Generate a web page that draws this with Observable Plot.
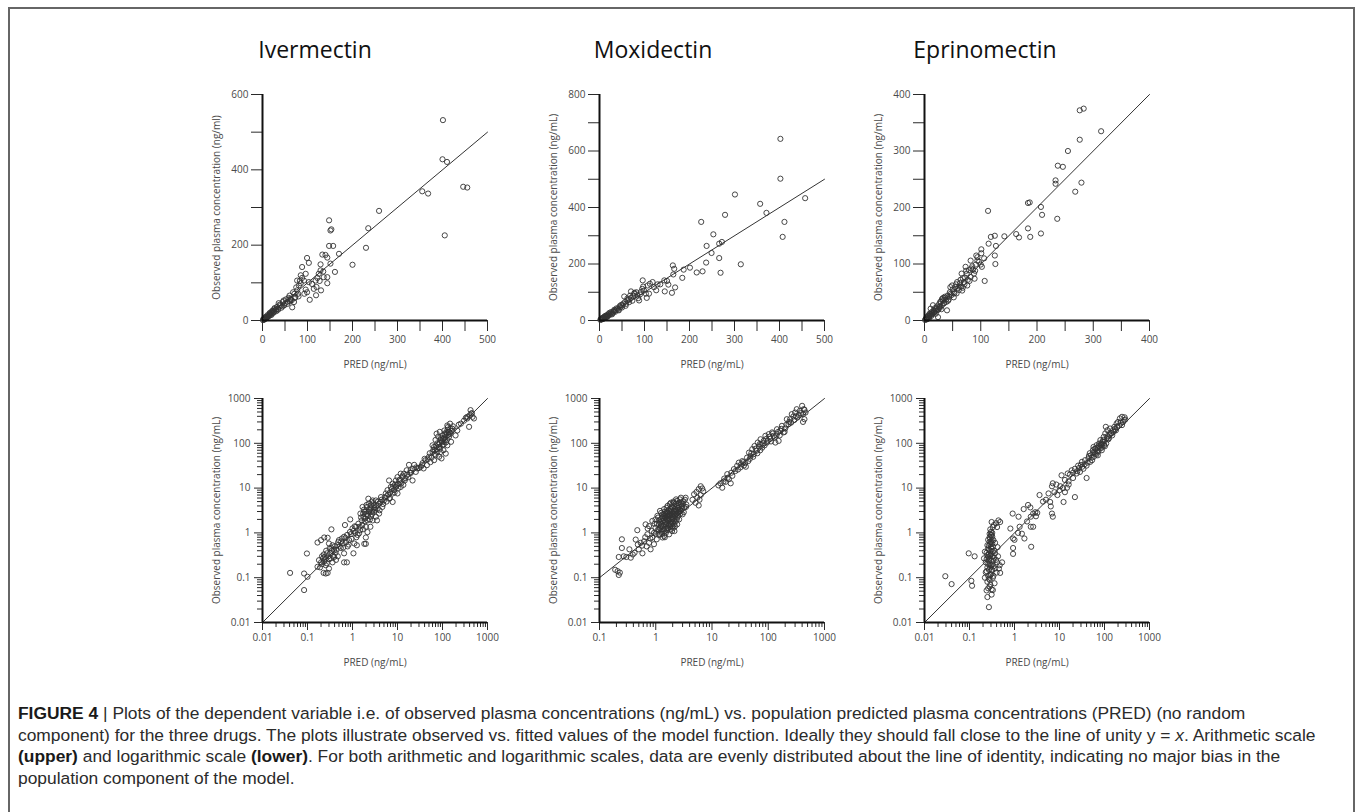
<!DOCTYPE html>
<html><head><meta charset="utf-8">
<script src="https://cdn.jsdelivr.net/npm/d3@7"></script>
<script src="https://cdn.jsdelivr.net/npm/@observablehq/plot@0.6"></script>
<style>
body{margin:0;background:#fff;}
#page{position:relative;width:1355px;height:812px;overflow:hidden;background:#fff;}
#frame{position:absolute;left:8px;top:7px;width:1347px;height:830px;border:2px solid #666;box-sizing:border-box;}
.title{position:absolute;top:34px;font-family:"Open Sans",sans-serif;font-size:23px;color:#111;transform:translateX(-50%);white-space:nowrap;line-height:30px;}
.panel{position:absolute;}
#caption{position:absolute;left:18px;top:703px;font-family:"Liberation Sans",Arial,sans-serif;font-size:17.4px;line-height:21.5px;color:#2b2b2b;}
#caption .ln{width:max-content;white-space:nowrap;}
#caption b{color:#1a1a1a;}
</style></head>
<body><div id="page"><div id="frame"></div></div>
<script>
// ---------------- data ----------------
const drugs = ["Ivermectin", "Moxidectin", "Eprinomectin"];
const titleCenters = [315, 653, 985];

// arithmetic scale: [PRED, observed] in ng/mL
const ivermectinLinear = [[401,532],[400,428],[410,421],[355,343],[368,337],[446,355],[455,353],[405,226],[259,291],[235,245],[230,193],[200,148],[170,177],[148,266],[151,239],[153,242],[148,198],[157,198],[133,175],[140,174],[144,167],[129,149],[135,130],[125,124],[161,129],[151,151],[144,115],[144,99],[99,166],[103,153],[88,142],[85,120],[96,124],[92,106],[103,102],[110,97],[114,84],[118,106],[127,105],[130,80],[105,55],[119,67],[93,71],[81,93],[77,80],[73,62],[70,49],[66,35],[61,51],[55,44],[47,53],[40,40],[34,31],[29,27],[24,22],[18,18],[14,13],[10,9],[7,5],[3,2],[36,46],[85,99],[77,106],[88,113],[79,71],[62,58],[71,71],[96,82],[99,75],[136,115],[122,113],[129,133],[120,89],[5,8],[12,10],[20,15],[26,30],[31,25],[44,38],[50,45],[58,60],[65,54],[2,4],[16,20],[22,26],[1,1],[4,3],[6,6],[8,10],[9,7],[11,14],[13,11],[15,16],[17,14],[19,22],[21,19],[23,25],[25,21],[27,33],[30,30],[32,36],[35,29],[38,42],[42,34],[45,49],[48,40],[52,56],[56,50],[60,66],[63,55],[68,75],[72,60],[75,88],[80,64],[83,105]];
const moxidectinLinear = [[402,643],[402,502],[407,296],[411,349],[457,433],[357,413],[371,381],[301,446],[279,374],[226,349],[253,305],[238,264],[249,239],[266,272],[272,278],[266,221],[269,169],[237,205],[229,174],[216,170],[314,199],[201,187],[187,180],[184,151],[163,195],[166,183],[164,163],[168,117],[161,98],[145,103],[150,140],[153,127],[144,142],[118,136],[107,124],[96,142],[99,106],[105,80],[110,95],[92,101],[88,71],[77,95],[70,103],[70,80],[62,71],[59,59],[55,85],[51,53],[46,47],[40,41],[36,36],[31,30],[25,24],[19,18],[14,12],[9,7],[4,4],[84,89],[66,65],[103,95],[121,118],[129,128],[6,9],[12,15],[17,13],[22,27],[28,22],[33,38],[43,36],[48,55],[57,66],[66,75],[75,88],[82,100],[97,120],[112,130],[135,128],[126,107],[2,2],[3,5],[5,4],[7,9],[8,6],[10,12],[11,9],[13,16],[15,13],[16,19],[18,15],[20,23],[23,20],[26,30],[29,26],[32,34],[35,31],[38,43],[42,38],[45,51],[50,46],[53,60],[58,52],[62,78],[68,88],[73,70],[78,98],[86,79],[90,92],[95,112]];
const eprinomectinLinear = [[283,375],[276,372],[314,335],[276,320],[255,300],[237,274],[246,272],[233,248],[233,242],[279,244],[268,228],[236,180],[207,201],[209,187],[207,154],[184,208],[187,209],[184,163],[188,148],[163,153],[168,147],[142,149],[113,194],[125,150],[118,148],[114,136],[127,132],[125,115],[126,100],[107,70],[101,126],[101,119],[94,112],[100,99],[91,99],[82,106],[85,96],[73,95],[88,83],[89,74],[82,77],[75,83],[66,83],[64,72],[70,68],[76,62],[58,68],[55,59],[49,62],[61,54],[67,53],[52,50],[46,47],[43,37],[37,40],[31,38],[28,33],[34,30],[40,18],[26,24],[21,21],[17,17],[14,13],[10,11],[6,7],[3,4],[20,12],[24,6],[15,27],[11,21],[46,59],[52,41],[94,106],[79,89],[102,95],[8,4],[12,8],[18,15],[23,18],[28,25],[33,36],[39,33],[44,42],[57,48],[62,60],[68,58],[72,76],[80,70],[86,90],[97,104],[106,110],[2,2],[5,3],[9,12],[30,20],[1,1],[4,2],[4,6],[7,5],[7,9],[9,8],[11,10],[13,15],[14,11],[16,18],[17,14],[19,22],[20,17],[22,25],[24,20],[26,29],[27,22],[29,33],[31,27],[33,40],[35,31],[36,42],[38,37],[41,44],[42,35],[45,50],[48,45],[50,55],[53,48],[56,64],[59,57],[63,66],[65,60],[68,75],[71,64],[74,88],[77,72],[83,92],[90,88],[92,115]];

// logarithmic scale: [PRED, observed] in ng/mL
const ivermectinLog = [[0.041,0.128],[0.084,0.124],[0.097,0.347],[0.084,0.053],[0.1,0.105],[0.167,0.175],[0.18,0.246],[0.2,0.22],[0.22,0.27],[0.235,0.23],[0.24,0.29],[0.255,0.19],[0.27,0.35],[0.28,0.128],[0.3,0.16],[0.228,0.128],[0.255,0.124],[0.32,0.35],[0.34,0.46],[0.36,0.53],[0.39,0.41],[0.3,0.58],[0.167,0.61],[0.2,0.69],[0.235,0.79],[0.28,0.78],[0.34,1.2],[0.39,0.29],[0.43,0.25],[0.3,0.26],[0.36,0.22],[0.46,0.53],[0.5,0.69],[0.55,0.46],[0.6,0.58],[0.65,0.82],[0.68,1.5],[0.65,0.22],[0.75,0.22],[0.65,0.35],[0.78,0.5],[0.84,0.69],[0.92,0.94],[1.0,1.26],[1.05,0.35],[0.89,2.0],[1.1,0.58],[1.25,0.53],[1.3,0.9],[1.45,1.37],[1.6,1.9],[1.2,1.37],[1.67,3.8],[1.83,2.95],[1.76,2.3],[1.88,1.8],[1.98,1.37],[1.98,0.79],[1.83,0.57],[1.98,0.57],[2.15,1.04],[2.15,1.9],[2.3,2.95],[2.3,4.5],[2.55,2.3],[2.55,3.5],[2.8,5.3],[2.8,1.9],[3.0,2.95],[3.0,4.1],[3.3,2.3],[3.3,5.3],[3.6,3.5],[3.9,2.7],[3.9,4.5],[4.3,6.3],[4.6,3.8],[5.0,5.3],[2.1,3.8],[2.5,1.37],[1.5,2.7],[2.25,5.8],[2.65,4.9],[3.5,1.9],[5.5,7.6],[6.0,9.0],[6.5,5.8],[7.1,10.6],[7.8,7.6],[7.8,12.5],[8.4,9.0],[9.2,14.8],[9.2,10.6],[10,17.6],[10.3,12.5],[10.9,14.8],[11.8,21],[11.8,10.6],[12.9,17.6],[14,21],[14.5,14.8],[16,25],[18,33],[17.4,17.6],[19.6,25],[21.6,14.8],[23.5,33],[25.5,23],[7.8,4.9],[6.5,14.8],[10,7.6],[27.5,27.5],[33,30],[35,32.5],[38,27.5],[42,42],[45,32.5],[50,50],[54,38],[60,64],[65,42],[65,83],[70,54],[77,100],[77,64],[80,140],[84,83],[84,50],[91,119],[91,64],[100,150],[100,90],[105,70],[110,193],[113,119],[118,59],[124,164],[128,90],[132,230],[140,140],[147,275],[150,164],[155,108],[165,212],[70,119],[60,90],[87,180],[95,46],[74,164],[128,250],[195,150],[213,193],[256,275],[355,358],[420,550],[435,460],[390,233],[465,390],[500,358],[355,390],[0.21,0.3],[0.26,0.4],[0.31,0.45],[0.42,0.36],[0.48,0.62],[0.58,0.75],[0.72,0.62],[1.15,1.0],[1.4,0.98],[1.7,1.2],[2.0,2.6],[2.4,3.2],[2.7,2.6],[3.2,3.3],[4.2,4.9],[5.8,6.6],[6.8,8.0],[8.8,12],[13.5,11.8],[20,22],[68,70],[86,100],[96,110],[108,130],[120,105],[135,180],[0.19,0.17],[0.21,0.2],[0.23,0.33],[0.25,0.26],[0.27,0.21],[0.29,0.3],[0.33,0.27],[0.35,0.4],[0.37,0.31],[0.4,0.5],[0.44,0.42],[0.47,0.3],[0.52,0.5],[0.56,0.64],[0.62,0.47],[0.7,0.77],[0.76,0.9],[0.82,0.55],[0.88,1.05],[0.95,0.74],[1.05,1.1],[1.12,1.4],[1.22,0.8],[1.35,1.6],[1.48,1.15],[1.55,2.2],[1.65,1.5],[1.72,2.7],[1.8,3.3],[1.9,2.1],[2.0,3.0],[2.05,4.2],[2.2,2.4],[2.35,3.4],[2.45,2.0],[2.6,4.1],[2.75,3.0],[2.9,4.6],[3.1,3.6],[3.4,4.0],[3.7,5.0],[4.0,3.2],[4.4,5.5],[4.8,4.4],[5.2,6.2],[5.7,5.0],[6.2,7.2],[6.8,6.0],[7.4,9.5],[8.0,10.8],[8.6,8.0],[9.5,11.5],[10.5,10.0],[11.2,15.5],[12.2,13],[13,19],[15,16.5],[16.5,20],[19,22],[22,27],[26,29],[30,28],[36,36],[40,45],[47,44],[52,60],[57,48],[63,72],[67,58],[72,86],[75,74],[82,93],[88,76],[93,130],[98,105],[103,125],[107,95],[112,160],[116,140],[120,175],[126,120],[130,200],[137,155],[142,180],[150,215],[158,190],[170,240],[230,260],[300,320],[330,370],[400,420],[450,470]];
const moxidectinLog = [[0.21,0.14],[0.22,0.115],[0.23,0.13],[0.19,0.15],[0.25,0.72],[0.25,0.46],[0.22,0.29],[0.34,0.43],[0.36,0.28],[0.39,0.33],[0.44,0.71],[0.47,1.15],[0.5,0.43],[0.54,0.6],[0.58,0.35],[0.62,0.65],[0.66,1.55],[0.69,0.5],[0.71,0.93],[0.76,0.6],[0.76,1.42],[0.81,0.43],[0.87,1.85],[0.87,0.79],[0.93,0.56],[0.93,1.0],[0.99,1.3],[0.99,2.0],[1.04,0.72],[1.07,2.4],[1.1,1.2],[1.14,1.55],[1.19,0.93],[1.19,3.1],[1.23,2.0],[1.27,1.2],[1.32,2.6],[1.32,0.79],[1.37,1.7],[1.41,3.4],[1.41,1.2],[1.45,2.2],[1.51,1.0],[1.51,1.55],[1.57,2.85],[1.62,4.0],[1.62,1.3],[1.67,2.0],[1.73,2.6],[1.73,0.93],[1.79,1.7],[1.85,3.4],[1.85,1.2],[1.9,2.2],[1.97,4.3],[1.97,1.4],[2.04,2.85],[2.1,1.85],[2.1,4.7],[2.15,1.1],[2.2,3.4],[2.2,2.4],[2.3,5.6],[2.4,1.55],[2.4,4.0],[2.45,2.85],[2.6,4.7],[2.6,2.0],[2.7,3.4],[2.8,6.1],[2.85,4.3],[3.0,2.6],[3.1,5.1],[3.2,3.7],[3.4,6.1],[3.5,4.3],[1.32,1.85],[1.51,2.2],[1.73,3.1],[1.97,2.0],[2.2,1.4],[1.62,2.4],[1.85,4.7],[2.1,3.1],[2.4,2.2],[2.8,3.1],[1.14,1.2],[1.23,1.42],[1.41,0.86],[1.2,1.7],[1.3,2.2],[1.5,1.8],[1.6,3.0],[1.7,1.5],[1.8,2.5],[1.9,3.8],[2.0,1.6],[2.3,2.7],[2.5,3.6],[2.6,2.9],[2.9,3.9],[1.45,2.7],[1.55,1.25],[1.75,2.1],[1.05,1.6],[1.1,2.2],[1.15,0.9],[1.2,1.3],[1.25,2.8],[1.28,1.05],[1.33,1.45],[1.36,2.35],[1.4,1.9],[1.43,1.1],[1.47,3.0],[1.5,2.45],[1.53,1.7],[1.56,3.6],[1.6,1.15],[1.63,2.7],[1.66,1.9],[1.7,3.3],[1.72,2.3],[1.76,1.35],[1.78,4.4],[1.82,2.8],[1.84,1.6],[1.88,3.1],[1.92,2.5],[1.95,1.1],[1.98,3.7],[2.02,2.2],[2.06,5.0],[2.1,2.6],[2.12,1.55],[2.16,3.9],[2.2,2.9],[2.25,1.8],[2.28,4.5],[2.32,3.2],[2.36,2.0],[2.4,5.2],[2.45,3.6],[2.5,2.4],[2.55,4.2],[2.62,3.3],[2.68,5.6],[2.75,2.7],[2.82,4.8],[2.95,3.5],[3.05,4.5],[3.15,2.9],[3.3,5.5],[3.45,3.8],[1.3,0.95],[1.45,0.8],[1.65,1.25],[1.85,1.45],[2.05,1.3],[1.15,1.9],[1.25,1.6],[1.4,2.6],[1.55,2.05],[1.7,2.45],[1.9,1.75],[2.15,2.1],[2.35,2.65],[2.6,3.0],[0.95,1.6],[1.0,0.95],[0.85,1.1],[0.8,0.75],[0.72,1.25],[0.65,0.8],[0.57,0.52],[0.48,0.55],[0.42,0.36],[0.3,0.29],[0.27,0.3],[4.8,7.3],[5.1,4.7],[5.5,6.1],[5.8,9.5],[6.3,11],[6.7,9.8],[5.8,4.1],[6.3,7.0],[4.5,5.5],[5.3,8.2],[6.0,5.5],[7.0,8.5],[14.1,12.8],[15.2,10.2],[16.5,16.3],[17.5,13.8],[18.7,20.5],[20,15.8],[21.5,12.8],[23,18.8],[24.5,26.5],[28,31.5],[30,37],[32,29],[34.5,40],[37,32],[40,30],[42,48],[45.5,62],[48.5,52],[52,74],[55,57],[57,87],[62,68],[65,104],[68,85],[73,123],[75,95],[78,80],[83,113],[89,147],[95,104],[102,160],[109,127],[117,175],[125,147],[134,104],[143,206],[153,113],[164,190],[175,245],[187,175],[200,214],[214,345],[229,267],[245,345],[262,447],[280,397],[300,486],[321,577],[330,376],[365,530],[400,686],[415,447],[440,345],[428,577],[460,486],[415,300],[13,11.5],[16,14],[19,17],[22,22],[26,24],[29,26],[33,34],[36,38],[39,36],[44,40],[47,45],[50,60],[54,50],[60,76],[64,60],[70,95],[72,70],[80,100],[86,90],[92,125],[98,115],[105,140],[112,110],[120,165],[130,135],[140,150],[150,180],[160,150],[170,210],[195,180],[210,260],[235,300],[255,290],[290,330],[310,400],[350,430],[380,470],[440,560]];
const eprinomectinLog = [[0.029,0.108],[0.04,0.072],[0.096,0.35],[0.13,0.3],[0.11,0.085],[0.114,0.066],[0.27,0.022],[0.25,0.037],[0.24,0.052],[0.26,0.058],[0.28,0.063],[0.31,0.055],[0.25,0.081],[0.27,0.095],[0.29,0.113],[0.23,0.132],[0.31,0.146],[0.25,0.17],[0.28,0.2],[0.23,0.22],[0.31,0.24],[0.26,0.29],[0.29,0.31],[0.24,0.36],[0.33,0.38],[0.27,0.42],[0.3,0.48],[0.25,0.53],[0.32,0.58],[0.28,0.63],[0.29,0.75],[0.31,0.89],[0.3,1.05],[0.33,1.35],[0.31,1.75],[0.39,1.65],[0.44,1.9],[0.41,1.35],[0.48,1.75],[0.42,0.48],[0.37,0.35],[0.41,0.22],[0.47,0.19],[0.53,0.22],[0.48,0.128],[0.37,0.16],[0.34,0.11],[0.33,0.053],[0.34,0.24],[0.36,0.4],[0.34,0.69],[0.27,0.24],[0.29,0.17],[0.21,0.27],[0.22,0.38],[0.26,0.45],[0.3,0.33],[0.28,0.27],[0.32,0.2],[0.27,0.15],[0.3,0.62],[0.32,0.82],[0.28,0.95],[0.35,0.28],[0.25,0.32],[0.22,0.1],[0.24,0.14],[0.26,0.11],[0.28,0.09],[0.3,0.12],[0.32,0.15],[0.33,0.1],[0.29,0.07],[0.26,0.2],[0.3,0.19],[0.34,0.18],[0.24,0.26],[0.32,0.3],[0.27,0.34],[0.29,0.4],[0.31,0.44],[0.27,0.52],[0.33,0.5],[0.29,0.56],[0.26,0.7],[0.31,0.68],[0.28,0.8],[0.3,0.9],[0.32,1.0],[0.29,1.2],[0.35,1.5],[0.37,0.6],[0.39,0.25],[0.43,0.3],[0.45,0.16],[0.4,0.13],[0.36,0.075],[0.31,0.042],[0.81,1.25],[0.91,2.7],[0.93,0.75],[1.0,0.7],[0.93,0.46],[0.93,0.34],[1.23,2.3],[1.3,1.37],[1.6,3.4],[1.46,0.96],[1.66,0.75],[2.0,4.2],[2.25,3.7],[2.3,2.3],[2.6,2.7],[2.3,1.37],[2.6,1.37],[2.35,0.49],[2.9,2.9],[3.0,2.35],[3.6,7.0],[5.7,7.6],[6.2,4.9],[6.4,3.9],[6.8,2.7],[7.1,2.3],[6.8,11.0],[7.1,12.8],[7.7,8.1],[10.4,11.0],[11.1,19.3],[12.3,4.9],[13.2,8.1],[13.2,15.2],[14.7,10.2],[15.2,21.2],[15.9,14.1],[18.7,25],[20,16.8],[22,6.3],[22,27],[24,21.2],[26,31.8],[28.5,23],[31.5,38.5],[34,27],[37,42],[40,16.8],[40,31.8],[44,46],[48,38.5],[50,54],[53,42],[56,63],[58,50],[61,76],[63,59],[67,91],[69,67],[71,54],[76,99],[79,76],[81,118],[83,91],[87,70],[91,108],[96,139],[98,91],[104,166],[109,99],[116,196],[122,123],[128,154],[133,214],[143,166],[154,196],[166,233],[180,196],[186,277],[200,300],[220,360],[245,390],[275,330],[245,255],[107,233],[57,83],[45,52],[47,60],[52,48],[55,70],[60,62],[64,75],[66,56],[70,80],[73,65],[75,88],[78,84],[85,100],[88,80],[90,95],[94,120],[100,110],[102,86],[112,130],[118,145],[125,130],[138,170],[148,150],[160,180],[170,210],[190,230],[210,250],[230,290],[260,300],[280,380],[290,340],[32,30],[36,34],[42,37],[30,33],[27,28],[25,24],[20,22],[17,20],[16,12],[12,10],[10,9],[8.5,12],[9,7],[5,5.5],[4.3,5],[3.2,2.8],[1.9,1.8],[1.2,1.0]];

const linearTicks = {
  Ivermectin: {x: [0,100,200,300,400,500], xMinor: [50,150,250,350,450], y: [0,200,400,600], yMinor: [100,300,500]},
  Moxidectin: {x: [0,100,200,300,400,500], xMinor: [50,150,250,350,450], y: [0,200,400,600,800], yMinor: [100,300,500,700]},
  Eprinomectin: {x: [0,100,200,300,400], xMinor: [50,150,250,350], y: [0,100,200,300,400], yMinor: [50,150,250,350]}
};
const logDecadesX = {Ivermectin: [0.01,0.1,1,10,100,1000], Moxidectin: [0.1,1,10,100,1000], Eprinomectin: [0.01,0.1,1,10,100,1000]};
const logDecadesY = [0.01,0.1,1,10,100,1000];
const yLabels = {Ivermectin: "Observed plasma concentration (ng/ml)", Moxidectin: "Observed plasma concentration (ng/mL)", Eprinomectin: "Observed plasma concentration (ng/mL)"};
const xLabel = "PRED (ng/mL)";
const captionLines = [
  "<b>FIGURE 4</b> | Plots of the dependent variable i.e. of observed plasma concentrations (ng/mL) vs. population predicted plasma concentrations (PRED) (no random",
  "component) for the three drugs. The plots illustrate observed vs. fitted values of the model function. Ideally they should fall close to the line of unity y = <i>x</i>. Arithmetic scale",
  "<b>(upper)</b> and logarithmic scale <b>(lower)</b>. For both arithmetic and logarithmic scales, data are evenly distributed about the line of identity, indicating no major bias in the",
  "population component of the model."
];

// ---------------- drawing ----------------
const page = document.getElementById("page");
const plotLeft = [262, 599, 924];
const M = {left: 70, right: 15, top: 12, bottom: 52};
const ink = "#2a2a2a";

function minorLog(decades) {
  const out = [];
  for (let i = 0; i < decades.length - 1; i++) for (let k = 2; k <= 9; k++) out.push(+(decades[i] * k).toPrecision(3));
  return out;
}

function makePanel(data, opts) {
  const {type, xDomain, yDomain, xMajor, xMinor, yMajor, yMinor, ylabel, plotH, majorSize, minorSize, pad, xLabelOffset} = opts;
  const ident = [xDomain[0], Math.min(xDomain[1], yDomain[1])].map(v => [v, v]);
  const fmt = d => String(d);
  return Plot.plot({
    width: M.left + 225 + M.right,
    height: M.top + plotH + M.bottom,
    marginLeft: M.left, marginRight: M.right, marginTop: M.top, marginBottom: M.bottom,
    x: {type, domain: xDomain},
    y: {type, domain: yDomain},
    style: {fontFamily: "'Open Sans', sans-serif", fontSize: "10px", color: "#4a4a4a", background: "transparent", overflow: "visible"},
    marks: [
      Plot.axisX(xMinor, {tickSize: minorSize, tickFormat: () => "", stroke: ink, label: null}),
      Plot.axisY(yMinor, {tickSize: minorSize, tickFormat: () => "", stroke: ink, label: null}),
      Plot.axisX(xMajor, {tickSize: majorSize, tickPadding: pad.x, tickFormat: fmt, stroke: ink, fontSize: 10,
        label: xLabel, labelAnchor: "center", labelArrow: "none", labelOffset: xLabelOffset}),
      Plot.axisY(yMajor, {tickSize: majorSize, tickPadding: pad.y, tickFormat: fmt, stroke: ink, fontSize: 10,
        label: ylabel, labelAnchor: "center", labelArrow: "none", labelOffset: 50}),
      Plot.line(ident, {x: d => d[0], y: d => d[1], stroke: "#333", strokeWidth: 1}),
      Plot.dot(data, {x: d => d[0], y: d => d[1], r: 2.6, stroke: "#333", strokeWidth: 0.9, fill: "none"}),
      Plot.ruleX([xDomain[0]], {stroke: "#111", strokeWidth: 2}),
      Plot.ruleY([yDomain[0]], {stroke: "#111", strokeWidth: 2})
    ]
  });
}

const linearData = [ivermectinLinear, moxidectinLinear, eprinomectinLinear];
const logData = [ivermectinLog, moxidectinLog, eprinomectinLog];

drugs.forEach((drug, i) => {
  const t = document.createElement("div");
  t.className = "title"; t.textContent = drug; t.style.left = titleCenters[i] + "px";
  page.appendChild(t);

  const lt = linearTicks[drug];
  const top = makePanel(linearData[i], {
    type: "linear", xDomain: [0, lt.x[lt.x.length - 1]], yDomain: [0, lt.y[lt.y.length - 1]],
    xMajor: lt.x, xMinor: lt.xMinor, yMajor: lt.y, yMinor: lt.yMinor, ylabel: yLabels[drug],
    plotH: 226, majorSize: 11, minorSize: 11, pad: {x: 4, y: 3}, xLabelOffset: 47
  });
  top.classList.add("panel");
  top.style.left = (plotLeft[i] - M.left) + "px"; top.style.top = (94 - M.top) + "px";
  page.appendChild(top);

  const dx = logDecadesX[drug];
  const bottom = makePanel(logData[i], {
    type: "log", xDomain: [dx[0], 1000], yDomain: [0.01, 1000],
    xMajor: dx, xMinor: minorLog(dx), yMajor: logDecadesY, yMinor: minorLog(logDecadesY),
    ylabel: "Observed plasma concentration (ng/mL)",
    plotH: 224, majorSize: 8, minorSize: 5, pad: {x: 3, y: 4}, xLabelOffset: 43
  });
  bottom.classList.add("panel");
  bottom.style.left = (plotLeft[i] - M.left) + "px"; bottom.style.top = (398 - M.top) + "px";
  page.appendChild(bottom);
});

const cap = document.createElement("div");
cap.id = "caption";
page.appendChild(cap);
captionLines.forEach(html => {
  const ln = document.createElement("div");
  ln.className = "ln"; ln.innerHTML = html;
  cap.appendChild(ln);
});
</script>
</body></html>
